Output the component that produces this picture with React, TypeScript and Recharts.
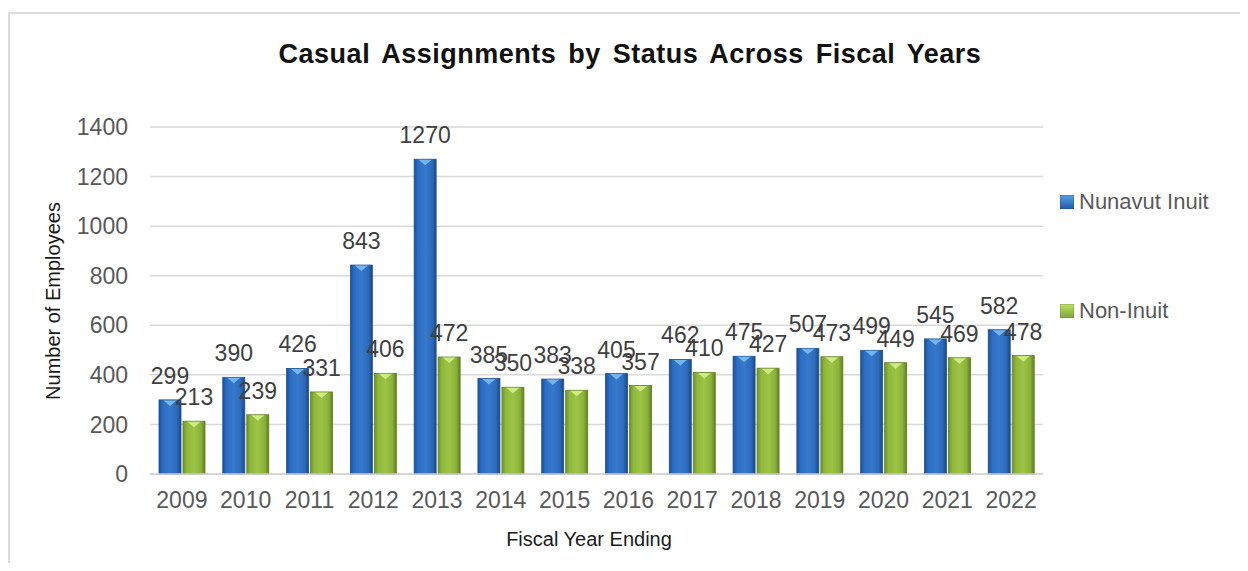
import { BarChart, Bar, XAxis, YAxis, CartesianGrid, Legend, LabelList, Label } from 'recharts'

const years = ['2009', '2010', '2011', '2012', '2013', '2014', '2015', '2016', '2017', '2018', '2019', '2020', '2021', '2022']
const nunavutInuit = [299, 390, 426, 843, 1270, 385, 383, 405, 462, 475, 507, 499, 545, 582]
const nonInuit = [213, 239, 331, 406, 472, 350, 338, 357, 410, 427, 473, 449, 469, 478]
const yTicks = [0, 200, 400, 600, 800, 1000, 1200, 1400]

const data = years.map((year, i) => ({
  year,
  inuit: nunavutInuit[i],
  nonInuit: nonInuit[i],
}))

const FONT = '"Liberation Sans", Arial, sans-serif'

const series = [
  { key: 'inuit', name: 'Nunavut Inuit', grad: 'gradBlue', tip: '#7bbcf2', edge: '#1d4f8f' },
  { key: 'nonInuit', name: 'Non-Inuit', grad: 'gradGreen', tip: '#d4ef8a', edge: '#5f7f22' },
]

// bevelled bar like the Excel 3D-ish preset: side shading plus a light notch on top
function bevelBar(grad: string, tip: string, edge: string) {
  return (props: any) => {
    const { x, y, width, height } = props
    if (!height || height <= 0) return <g />
    const d = Math.min(6, height)
    return (
      <g>
        <rect x={x} y={y} width={width} height={height} fill={`url(#${grad})`} stroke={edge} strokeWidth={0.8} />
        <polygon
          points={`${x + width * 0.2},${y + 0.5} ${x + width * 0.8},${y + 0.5} ${x + width / 2},${y + d}`}
          fill={tip}
          opacity={0.9}
        />
      </g>
    )
  }
}

function LegendBox() {
  return (
    <div style={{ fontFamily: FONT, fontSize: 22, color: '#595959' }}>
      {series.map((s, i) => (
        <div key={s.key} style={{ display: 'flex', alignItems: 'center', height: 30, marginBottom: i === 0 ? 79 : 0 }}>
          <svg width={14} height={14} style={{ marginRight: 5 }}>
            <rect x={0} y={0} width={14} height={14} fill={`url(#${s.grad}L)`} stroke={s.edge} strokeWidth={0.6} />
          </svg>
          <span>{s.name}</span>
        </div>
      ))}
      <svg width={0} height={0} style={{ position: 'absolute' }}>
        <defs>
          <linearGradient id="gradBlueL" x1="0" y1="0" x2="0" y2="1">
            <stop offset="0" stopColor="#5aa0e6" />
            <stop offset="1" stopColor="#2059a8" />
          </linearGradient>
          <linearGradient id="gradGreenL" x1="0" y1="0" x2="0" y2="1">
            <stop offset="0" stopColor="#c2e06c" />
            <stop offset="1" stopColor="#7ea532" />
          </linearGradient>
        </defs>
      </svg>
    </div>
  )
}

export default function App() {
  return (
    <div style={{ position: 'relative', width: 1240, height: 555, overflow: 'hidden', fontFamily: FONT, background: '#fff' }}>
      <div
        style={{
          position: 'absolute',
          left: 0,
          top: 4,
          width: 1260,
          height: 600,
          border: '2px solid #dcdcdc',
          boxSizing: 'border-box',
        }}
      />
      <div
        style={{
          position: 'absolute',
          left: 0,
          width: 1244,
          top: 31,
          textAlign: 'center',
          fontSize: 27,
          fontWeight: 'bold',
          letterSpacing: 0.5,
          wordSpacing: 4,
          color: '#111',
        }}
      >
        Casual Assignments by Status Across Fiscal Years
      </div>
      <div style={{ position: 'absolute', left: 0, top: 0 }}>
        <BarChart
          width={1240}
          height={555}
          data={data}
          margin={{ top: 119, right: 205, bottom: 29, left: 0 }}
          barSize={22}
          barGap={2}
        >
          <defs>
            <linearGradient id="gradBlue" x1="0" y1="0" x2="1" y2="0">
              <stop offset="0" stopColor="#1d509a" />
              <stop offset="0.18" stopColor="#2c6ec2" />
              <stop offset="0.5" stopColor="#3679cc" />
              <stop offset="0.82" stopColor="#2c6abc" />
              <stop offset="1" stopColor="#1b4886" />
            </linearGradient>
            <linearGradient id="gradGreen" x1="0" y1="0" x2="1" y2="0">
              <stop offset="0" stopColor="#6f9329" />
              <stop offset="0.18" stopColor="#8fb83c" />
              <stop offset="0.5" stopColor="#9cc546" />
              <stop offset="0.82" stopColor="#8ab238" />
              <stop offset="1" stopColor="#5f7f22" />
            </linearGradient>
          </defs>
          <CartesianGrid vertical={false} stroke="#d9d9d9" strokeWidth={1.5} />
          <XAxis
            dataKey="year"
            height={60}
            tickLine={false}
            tickSize={0}
            tickMargin={18}
            axisLine={{ stroke: '#d0d0d0', strokeWidth: 1.5 }}
            tick={{ fill: '#595959', fontSize: 23, fontFamily: FONT }}
            interval={0}
          >
            <Label
              content={() => (
                <text x={581} y={531} textAnchor="middle" dominantBaseline="central" fontSize={20} fontFamily={FONT} fill="#1a1a1a">
                  Fiscal Year Ending
                </text>
              )}
            />
          </XAxis>
          <YAxis
            width={142}
            domain={[0, 1400]}
            ticks={yTicks}
            axisLine={false}
            tickLine={false}
            tickSize={0}
            tickMargin={22}
            tick={{ fill: '#595959', fontSize: 23, fontFamily: FONT }}
          >
            <Label
              content={() => (
                <text
                  x={45}
                  y={293}
                  transform="rotate(-90 45 293)"
                  textAnchor="middle"
                  dominantBaseline="central"
                  fontSize={20}
                  fontFamily={FONT}
                  fill="#1a1a1a"
                >
                  Number of Employees
                </text>
              )}
            />
          </YAxis>
          <Legend
            layout="vertical"
            align="center"
            verticalAlign="middle"
            wrapperStyle={{ left: 1052, top: 179, width: 200 }}
            content={() => <LegendBox />}
          />
          {series.map((s) => (
            <Bar
              key={s.key}
              dataKey={s.key}
              name={s.name}
              fill={s.edge}
              isAnimationActive={false}
              shape={bevelBar(s.grad, s.tip, s.edge)}
            >
              <LabelList dataKey={s.key} position="top" offset={16} fill="#404040" fontSize={23} fontFamily={FONT} />
            </Bar>
          ))}
        </BarChart>
      </div>
    </div>
  )
}
